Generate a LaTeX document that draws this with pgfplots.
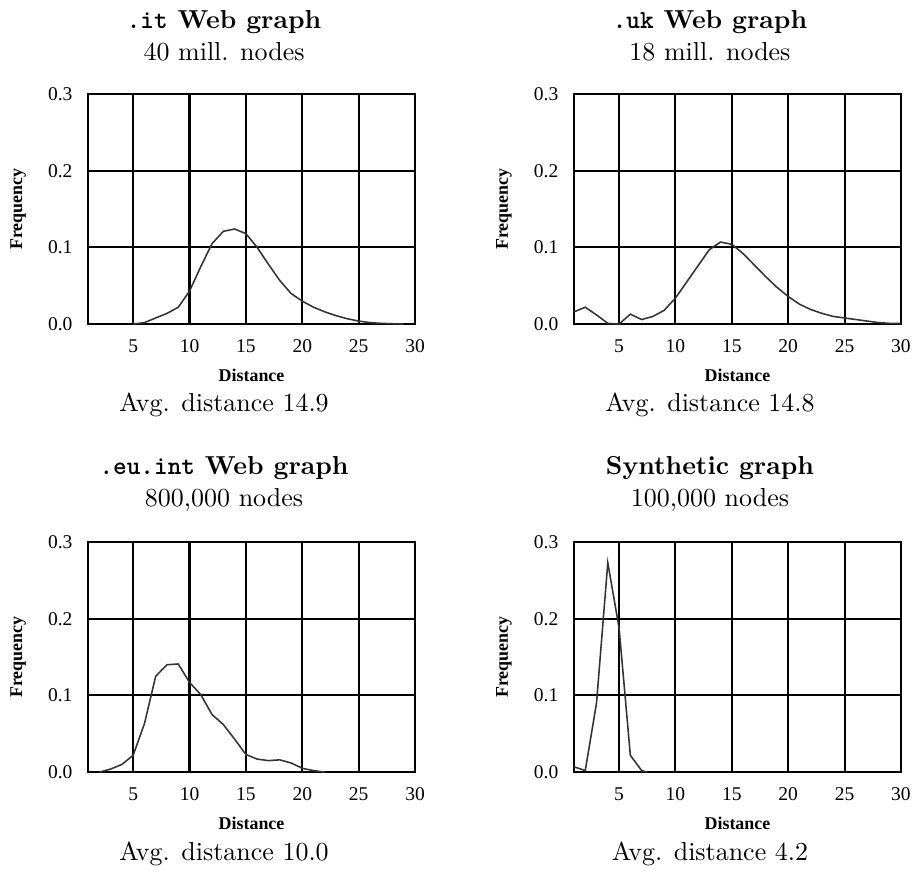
\documentclass[border=0pt]{standalone}
\usepackage{fontspec}
\usepackage{pgfplots}
\pgfplotsset{compat=1.18}
\newfontfamily\timesf{Liberation Serif}

\pgfplotsset{
  panel/.style={
    anchor=south west, scale only axis, width=125.9pt, height=88.6pt,
    xmin=1, xmax=30, ymin=0, ymax=0.3,
    xtick={5,10,15,20,25,30}, xticklabels={5,10,15,20,25,30},
    ytick={0,0.1,0.2,0.3}, yticklabels={0.0,0.1,0.2,0.3},
    grid=major, grid style={black, line width=0.8pt},
    axis line style={black, line width=0.8pt},
    major tick length=0pt,
    clip=false,
    /pgf/number format/assume math mode=true,
    tick label style={font=\timesf\fontsize{7.5}{8}\selectfont},
    xticklabel style={yshift=-2.5pt},
    yticklabel style={xshift=-2.5pt},
    xlabel={Distance}, ylabel={Frequency},
    label style={font=\timesf\bfseries\fontsize{6.9}{8}\selectfont},
    xlabel style={at={(axis description cs:0.5,-0.222)}, anchor=center},
    ylabel style={at={(axis description cs:-0.214,0.5)}, anchor=center},
    title style={at={(axis description cs:0.416,1.185)}, anchor=center, align=center, font=\fontsize{10}{12.4}\selectfont},
  },
  curve/.style={black!80, line width=0.6pt, mark=none},
}

\begin{document}
\begin{tikzpicture}
\useasboundingbox (0,0) rectangle (352.7pt,335pt);

% .it
\begin{axis}[panel, at={(33.9pt,210.2pt)},
  title={\textbf{\texttt{.it} Web graph}\\40 mill. nodes}]
\addplot[curve] coordinates {
 (5,0.0) (6,0.002) (7,0.008) (8,0.014) (9,0.022) (10,0.043) (11,0.075)
 (12,0.105) (13,0.121) (14,0.124) (15,0.118) (16,0.100) (17,0.078)
 (18,0.057) (19,0.040) (20,0.030) (21,0.022) (22,0.016) (23,0.011)
 (24,0.007) (25,0.004) (26,0.002) (27,0.001) (28,0.0005) (29,0.0)};
\node at (axis description cs:0.416,-0.352) {Avg. distance 14.9};
\end{axis}

% .uk
\begin{axis}[panel, at={(221.0pt,210.2pt)},
  title={\textbf{\texttt{.uk} Web graph}\\18 mill. nodes}]
\addplot[curve] coordinates {
 (1,0.016) (2,0.022) (3,0.012) (4,0.001) (5,0.0) (6,0.013) (7,0.006)
 (8,0.010) (9,0.018) (10,0.034) (11,0.055) (12,0.076) (13,0.097)
 (14,0.107) (15,0.104) (16,0.092) (17,0.077) (18,0.062) (19,0.048)
 (20,0.036) (21,0.026) (22,0.019) (23,0.014) (24,0.010) (25,0.008)
 (26,0.006) (27,0.004) (28,0.002) (29,0.001) (30,0.001)};
\node at (axis description cs:0.416,-0.352) {Avg. distance 14.8};
\end{axis}

% .eu.int
\begin{axis}[panel, at={(33.9pt,37.7pt)},
  title={\textbf{\texttt{.eu.int} Web graph}\\800,000 nodes}]
\addplot[curve] coordinates {
 (2,0.0) (3,0.004) (4,0.010) (5,0.022) (6,0.063) (7,0.125) (8,0.140)
 (9,0.141) (10,0.117) (11,0.101) (12,0.075) (13,0.062) (14,0.043)
 (15,0.023) (16,0.017) (17,0.015) (18,0.016) (19,0.012) (20,0.005)
 (21,0.002) (22,0.0)};
\node at (axis description cs:0.416,-0.356) {Avg. distance 10.0};
\end{axis}

% synthetic
\begin{axis}[panel, at={(221.0pt,37.7pt)},
  title={\textbf{Synthetic graph}\\100,000 nodes}]
\addplot[curve] coordinates {
 (1,0.007) (2,0.002) (3,0.090) (4,0.273) (5,0.188) (6,0.022) (7,0.002) (7.5,0.0)};
\node at (axis description cs:0.416,-0.356) {Avg. distance 4.2};
\end{axis}
\end{tikzpicture}
\end{document}
